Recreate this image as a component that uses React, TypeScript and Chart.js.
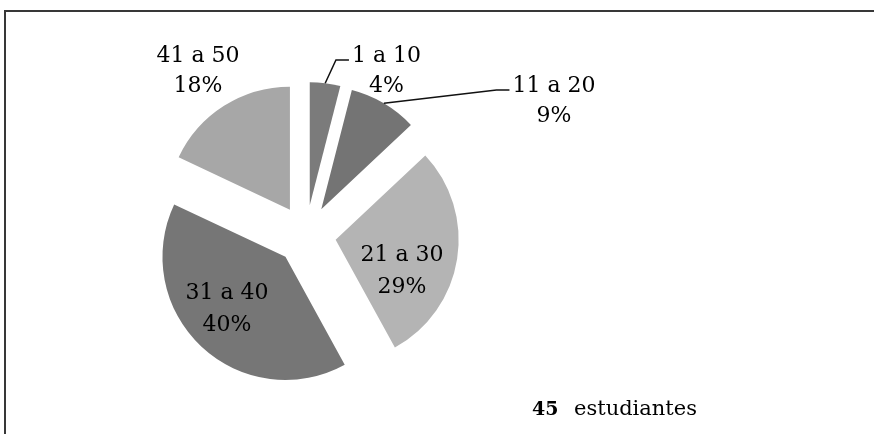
import React, { useEffect, useRef } from "react";
import { Chart, registerables } from "chart.js";

Chart.register(...registerables);

// Age bands and their share of the 45 students
const categories = ["1 a 10", "11 a 20", "21 a 30", "31 a 40", "41 a 50"];
const shares = [4, 9, 29, 40, 18];
const sliceColors = ["#7b7b7b", "#747474", "#b4b4b4", "#767676", "#a7a7a7"];
const totalStudents = 45;
const totalCaption = "estudiantes";

// How far each wedge is pulled out from the centre, in px
const EXPLODE = 30;
const PIE_RADIUS = 123;

// Label anchors (centre of first line's baseline) relative to the pie centre,
// plus the distance to the second line
const labelOffsets: [number, number, number][] = [
  [80.5, -173, 30],
  [248, -143, 30],
  [96, 26, 32],
  [-79, 64, 32],
  [-108, -173, 30],
];
// Slices whose label sits away from the wedge and needs a leader line
const leaderSlices = [0, 1];

const FONT = '"DejaVu Serif", "Liberation Serif", serif';

const explodePlugin = {
  id: "explodeSlices",
  beforeDatasetDraw(chart: any, args: any) {
    const ctx = chart.ctx;
    for (const arc of args.meta.data) {
      const mid = (arc.startAngle + arc.endAngle) / 2;
      ctx.save();
      ctx.translate(Math.cos(mid) * EXPLODE, Math.sin(mid) * EXPLODE);
      arc.draw(ctx);
      ctx.restore();
    }
    return false;
  },
};

const labelPlugin = {
  id: "sliceLabels",
  afterDatasetsDraw(chart: any) {
    const ctx = chart.ctx;
    const meta = chart.getDatasetMeta(0);
    ctx.save();
    ctx.font = `22px ${FONT}`;
    ctx.fillStyle = "#000";
    ctx.strokeStyle = "#111";
    ctx.lineWidth = 1.5;
    ctx.textAlign = "center";
    ctx.textBaseline = "alphabetic";
    meta.data.forEach((arc: any, i: number) => {
      const cx = arc.x;
      const cy = arc.y;
      const [dx, dy, gap] = labelOffsets[i];
      const lx = cx + dx;
      const ly = cy + dy;
      const line1 = categories[i];
      const line2 = `${shares[i]}%`;
      ctx.fillText(line1, lx, ly);
      ctx.fillText(line2, lx, ly + gap);
      if (leaderSlices.includes(i)) {
        const mid = (arc.startAngle + arc.endAngle) / 2;
        const r = arc.outerRadius + EXPLODE;
        const ex = cx + Math.cos(mid) * r;
        const ey = cy + Math.sin(mid) * r;
        const left = lx - ctx.measureText(line1).width / 2;
        ctx.beginPath();
        ctx.moveTo(ex, ey);
        ctx.lineTo(left - 16, ly - 2);
        ctx.lineTo(left - 3, ly - 2);
        ctx.stroke();
      }
    });

    // Sample size note in the lower right
    ctx.textAlign = "left";
    ctx.font = `bold 19px ${FONT}`;
    ctx.fillText(String(totalStudents), 532, 415);
    ctx.font = `21px ${FONT}`;
    ctx.fillText(totalCaption, 574, 415);
    ctx.restore();
  },
};

export default function App() {
  const canvasRef = useRef<HTMLCanvasElement | null>(null);

  useEffect(() => {
    if (!canvasRef.current) return;
    const chart = new Chart(canvasRef.current, {
      type: "pie",
      data: {
        labels: categories,
        datasets: [
          {
            data: shares,
            backgroundColor: sliceColors,
            borderWidth: 0,
            offset: 0,
          },
        ],
      },
      options: {
        responsive: false,
        devicePixelRatio: 1,
        animation: false,
        radius: PIE_RADIUS,
        layout: { padding: { left: 0, right: 262, top: 36, bottom: 0 } },
        plugins: {
          legend: { display: false },
          tooltip: { enabled: false },
          title: { display: false },
        },
        events: [],
      },
      plugins: [explodePlugin, labelPlugin],
    });
    return () => chart.destroy();
  }, []);

  return (
    <div
      style={{
        position: "fixed",
        left: 0,
        top: 0,
        width: 874,
        height: 434,
        background: "#fff",
        overflow: "hidden",
      }}
    >
      <canvas
        ref={canvasRef}
        width={874}
        height={434}
        style={{ position: "absolute", left: 0, top: 0, width: 874, height: 434 }}
      />
      <div
        style={{
          position: "absolute",
          left: 4,
          top: 10,
          width: 870,
          height: 424,
          borderTop: "2px solid #383838",
          borderLeft: "2px solid #383838",
          boxSizing: "border-box",
          pointerEvents: "none",
        }}
      />
    </div>
  );
}
